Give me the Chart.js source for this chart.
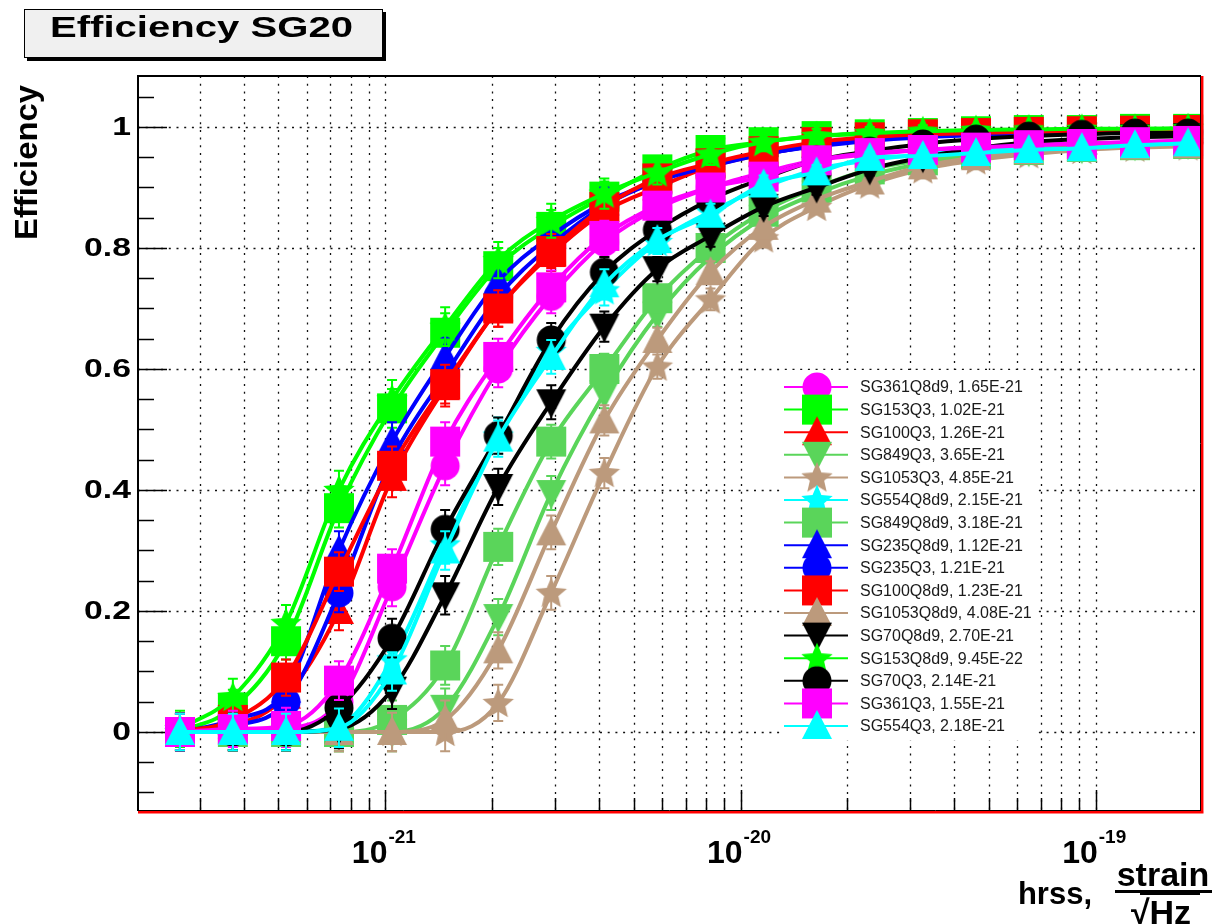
<!DOCTYPE html>
<html>
<head>
<meta charset="utf-8">
<script src="https://cdn.jsdelivr.net/npm/chart.js@4/dist/chart.umd.min.js"></script>
<style>
  html, body { margin: 0; padding: 0; background: #ffffff; }
  #wrap { width: 1220px; height: 924px; position: relative; }
</style>
</head>
<body>
<div id="wrap"><canvas id="c" width="1220" height="924"></canvas></div>
<script>
// ---------------- DATA ----------------
const hrss = [2.64e-22, 3.72e-22, 5.25e-22, 7.40e-22, 1.044e-21, 1.473e-21, 2.078e-21, 2.93e-21,
              4.135e-21, 5.83e-21, 8.23e-21, 1.161e-20, 1.637e-20, 2.31e-20, 3.26e-20, 4.60e-20,
              6.48e-20, 9.14e-20, 1.29e-19, 1.82e-19];

const seriesLabels = [
  'SG361Q8d9, 1.65E-21', 'SG153Q3, 1.02E-21', 'SG100Q3, 1.26E-21', 'SG849Q3, 3.65E-21',
  'SG1053Q3, 4.85E-21', 'SG554Q8d9, 2.15E-21', 'SG849Q8d9, 3.18E-21', 'SG235Q8d9, 1.12E-21',
  'SG235Q3, 1.21E-21', 'SG100Q8d9, 1.23E-21', 'SG1053Q8d9, 4.08E-21', 'SG70Q8d9, 2.70E-21',
  'SG153Q8d9, 9.45E-22', 'SG70Q3, 2.14E-21', 'SG361Q3, 1.55E-21', 'SG554Q3, 2.18E-21'
];

const effSG361Q8d9 = [0, 0, 0.005, 0.05, 0.24, 0.44, 0.60, 0.72, 0.81, 0.865, 0.90, 0.925, 0.945, 0.955, 0.962, 0.967, 0.97, 0.973, 0.975, 0.977];
const effSG153Q3   = [0, 0.04, 0.15, 0.37, 0.535, 0.66, 0.77, 0.835, 0.885, 0.93, 0.962, 0.975, 0.985, 0.988, 0.99, 0.993, 0.995, 0.995, 0.997, 0.997];
const effSG100Q3   = [0, 0.01, 0.06, 0.20, 0.42, 0.57, 0.70, 0.79, 0.86, 0.90, 0.935, 0.955, 0.97, 0.98, 0.985, 0.99, 0.99, 0.993, 0.995, 0.995];
const effSG849Q3   = [0, 0, 0, 0, 0, 0.04, 0.19, 0.395, 0.56, 0.69, 0.785, 0.85, 0.89, 0.92, 0.94, 0.955, 0.96, 0.965, 0.97, 0.972];
const effSG1053Q3  = [0, 0, 0, 0, 0, 0, 0.048, 0.23, 0.428, 0.604, 0.715, 0.816, 0.868, 0.905, 0.93, 0.945, 0.955, 0.962, 0.966, 0.968];
const effSG554Q8d9 = [0, 0, 0, 0.01, 0.12, 0.31, 0.49, 0.63, 0.73, 0.81, 0.86, 0.90, 0.93, 0.945, 0.955, 0.962, 0.967, 0.97, 0.973, 0.975];
const effSG849Q8d9 = [0, 0, 0, 0, 0.02, 0.11, 0.306, 0.48, 0.60, 0.717, 0.80, 0.86, 0.90, 0.93, 0.945, 0.955, 0.962, 0.967, 0.97, 0.972];
const effSG235Q8d9 = [0, 0.02, 0.07, 0.30, 0.48, 0.62, 0.745, 0.82, 0.875, 0.91, 0.94, 0.955, 0.97, 0.978, 0.985, 0.988, 0.99, 0.992, 0.993, 0.994];
const effSG235Q3   = [0, 0.01, 0.05, 0.23, 0.45, 0.59, 0.72, 0.805, 0.87, 0.91, 0.935, 0.955, 0.968, 0.977, 0.983, 0.987, 0.99, 0.991, 0.992, 0.993];
const effSG100Q8d9 = [0, 0.02, 0.09, 0.265, 0.44, 0.575, 0.70, 0.795, 0.868, 0.915, 0.94, 0.96, 0.975, 0.983, 0.988, 0.99, 0.992, 0.993, 0.994, 0.995];
const effSG1053Q8d9= [0, 0, 0, 0, 0, 0.02, 0.135, 0.33, 0.515, 0.648, 0.76, 0.835, 0.88, 0.91, 0.935, 0.95, 0.96, 0.965, 0.968, 0.97];
const effSG70Q8d9  = [0, 0, 0, 0.005, 0.07, 0.226, 0.405, 0.545, 0.67, 0.765, 0.82, 0.868, 0.90, 0.93, 0.95, 0.965, 0.975, 0.98, 0.983, 0.985];
const effSG153Q8d9 = [0.005, 0.058, 0.18, 0.40, 0.55, 0.67, 0.78, 0.845, 0.89, 0.925, 0.955, 0.975, 0.985, 0.99, 0.993, 0.995, 0.996, 0.997, 0.997, 0.998];
const effSG70Q3    = [0, 0, 0, 0.04, 0.155, 0.335, 0.49, 0.648, 0.76, 0.83, 0.88, 0.915, 0.945, 0.96, 0.972, 0.98, 0.985, 0.988, 0.99, 0.99];
const effSG361Q3   = [0, 0.005, 0.01, 0.085, 0.27, 0.48, 0.62, 0.735, 0.82, 0.87, 0.90, 0.918, 0.945, 0.957, 0.962, 0.966, 0.97, 0.972, 0.975, 0.977];
const effSG554Q3   = [0, 0, 0, 0.007, 0.10, 0.30, 0.485, 0.62, 0.74, 0.813, 0.855, 0.905, 0.925, 0.949, 0.952, 0.957, 0.962, 0.965, 0.97, 0.973];

// approximate error bar half-heights, read per hrss column
const effErr = [0.03, 0.03, 0.03, 0.032, 0.032, 0.032, 0.03, 0.028, 0.025, 0.02, 0.018, 0.015, 0.012, 0.01, 0.01, 0.008, 0.008, 0.008, 0.008, 0.008];

const yTickValues = [0, 0.2, 0.4, 0.6, 0.8, 1];
const yTickLabels = ['0', '0.2', '0.4', '0.6', '0.8', '1'];
const xTickExponents = [-21, -20, -19];
const titleText = 'Efficiency SG20';
const yTitleText = 'Efficiency';

// ---------------- STYLES ----------------
const seriesValues = [effSG361Q8d9, effSG153Q3, effSG100Q3, effSG849Q3, effSG1053Q3, effSG554Q8d9,
  effSG849Q8d9, effSG235Q8d9, effSG235Q3, effSG100Q8d9, effSG1053Q8d9, effSG70Q8d9,
  effSG153Q8d9, effSG70Q3, effSG361Q3, effSG554Q3];

const MAG = '#ff00ff', GRN = '#00ff00', RED = '#ff0000', LGR = '#5ad55a', TAN = '#bc9a7c',
      CYN = '#00ffff', BLU = '#0000ff', BLK = '#000000';
const seriesStyle = [
  [MAG, 'circle'], [GRN, 'square'], [RED, 'triUp'], [LGR, 'triDown'],
  [TAN, 'star'], [CYN, 'star'], [LGR, 'square'], [BLU, 'triUp'],
  [BLU, 'circle'], [RED, 'square'], [TAN, 'triUp'], [BLK, 'triDown'],
  [GRN, 'star'], [BLK, 'circle'], [MAG, 'square'], [CYN, 'triUp']
];

function makeMarker(type, color) {
  const s = 36, m = s / 2;
  const c = document.createElement('canvas');
  c.width = s; c.height = s;
  const g = c.getContext('2d');
  g.fillStyle = color;
  g.beginPath();
  if (type === 'circle') {
    g.arc(m, m, 14.5, 0, Math.PI * 2);
  } else if (type === 'square') {
    g.rect(m - 15, m - 15, 30, 30);
  } else if (type === 'triUp') {
    g.moveTo(m, m - 16); g.lineTo(m + 15, m + 13); g.lineTo(m - 15, m + 13); g.closePath();
  } else if (type === 'triDown') {
    g.moveTo(m, m + 16); g.lineTo(m + 15, m - 13); g.lineTo(m - 15, m - 13); g.closePath();
  } else if (type === 'star') {
    for (let k = 0; k < 10; k++) {
      const ang = -Math.PI / 2 + k * Math.PI / 5;
      const r = (k % 2 === 0) ? 16.5 : 7.5;
      const px = m + r * Math.cos(ang), py = m + 1 + r * Math.sin(ang);
      if (k === 0) g.moveTo(px, py); else g.lineTo(px, py);
    }
    g.closePath();
  }
  g.fill();
  return c;
}

const markers = seriesStyle.map(([col, t]) => makeMarker(t, col));

const datasets = seriesValues.map((vals, i) => ({
  label: seriesLabels[i],
  data: hrss.map((h, j) => ({ x: h, y: vals[j] })),
  borderColor: seriesStyle[i][0],
  backgroundColor: seriesStyle[i][0],
  borderWidth: 4,
  pointStyle: markers[i],
  pointRadius: 15,
  pointHoverRadius: 15,
  cubicInterpolationMode: 'monotone',
  fill: false,
  clip: false,
  order: seriesValues.length - i
}));

const FONT = '"Liberation Sans", Arial, Helvetica, sans-serif';

function stretchText(ctx, text, x, y, sx, align) {
  ctx.save();
  ctx.translate(x, y);
  ctx.scale(sx, 1);
  ctx.textAlign = align;
  ctx.fillText(text, 0, 0);
  ctx.restore();
}

const rootDecor = {
  id: 'rootDecor',
  beforeDatasetsDraw(chart) {
    const { ctx, chartArea: a, scales: { x, y } } = chart;
    ctx.save();
    ctx.fillStyle = '#ffffff';
    ctx.fillRect(a.left, a.top, a.right - a.left, a.bottom - a.top);
    // dotted grid
    ctx.strokeStyle = '#111';
    ctx.lineWidth = 1.3;
    ctx.setLineDash([2, 5.7]);
    for (let e = -22; e <= -19; e++) {
      for (let k = 1; k <= 9; k++) {
        const v = k * Math.pow(10, e);
        if (v <= x.min * 1.001 || v >= x.max * 0.999) continue;
        const px = Math.round(x.getPixelForValue(v)) + 0.5;
        ctx.beginPath(); ctx.moveTo(px, a.top); ctx.lineTo(px, a.bottom); ctx.stroke();
      }
    }
    for (const v of yTickValues) {
      const py = Math.round(y.getPixelForValue(v)) + 0.5;
      ctx.beginPath(); ctx.moveTo(a.left, py); ctx.lineTo(a.right, py); ctx.stroke();
    }
    ctx.setLineDash([]);
    // ticks
    ctx.strokeStyle = '#000';
    ctx.lineWidth = 1.5;
    for (let i = -3; i <= 22; i++) {
      const v = i * 0.05;
      if (v < y.min || v > y.max) continue;
      const py = Math.round(y.getPixelForValue(v)) + 0.5;
      const len = (i % 4 === 0) ? 29 : 16;
      ctx.beginPath(); ctx.moveTo(a.left, py); ctx.lineTo(a.left + len, py); ctx.stroke();
    }
    for (let e = -22; e <= -19; e++) {
      for (let k = 1; k <= 9; k++) {
        const v = k * Math.pow(10, e);
        if (v <= x.min * 1.001 || v >= x.max * 0.999) continue;
        const px = Math.round(x.getPixelForValue(v)) + 0.5;
        const len = (k === 1) ? 21 : 13;
        ctx.beginPath(); ctx.moveTo(px, a.bottom); ctx.lineTo(px, a.bottom - len); ctx.stroke();
      }
    }
    ctx.restore();
  },
  beforeDatasetDraw(chart, args) {
    const { ctx, scales: { x, y } } = chart;
    const i = args.index;
    const vals = seriesValues[i];
    ctx.save();
    ctx.strokeStyle = seriesStyle[i][0];
    ctx.lineWidth = 2;
    for (let j = 0; j < hrss.length; j++) {
      const px = x.getPixelForValue(hrss[j]);
      const yt = y.getPixelForValue(vals[j] + effErr[j]);
      const yb = y.getPixelForValue(vals[j] - effErr[j]);
      ctx.beginPath();
      ctx.moveTo(px, yt); ctx.lineTo(px, yb);
      ctx.moveTo(px - 5, yt); ctx.lineTo(px + 5, yt);
      ctx.moveTo(px - 5, yb); ctx.lineTo(px + 5, yb);
      ctx.stroke();
    }
    ctx.restore();
  },
  afterDatasetsDraw(chart) {
    const { ctx, chartArea: a, scales: { x, y } } = chart;
    ctx.save();
    // frame
    ctx.strokeStyle = '#000';
    ctx.lineWidth = 2;
    ctx.beginPath();
    ctx.moveTo(a.left, a.bottom); ctx.lineTo(a.left, a.top); ctx.lineTo(a.right, a.top);
    ctx.stroke();
    ctx.lineWidth = 1;
    ctx.beginPath();
    ctx.moveTo(a.left, a.bottom - 0.5); ctx.lineTo(a.right, a.bottom - 0.5);
    ctx.moveTo(a.right - 0.5, a.top); ctx.lineTo(a.right - 0.5, a.bottom);
    ctx.stroke();
    ctx.strokeStyle = '#ff0000';
    ctx.lineWidth = 2.5;
    ctx.beginPath();
    ctx.moveTo(a.left, a.bottom + 1.2); ctx.lineTo(a.right + 2.5, a.bottom + 1.2);
    ctx.moveTo(a.right + 1.2, a.top); ctx.lineTo(a.right + 1.2, a.bottom + 2.5);
    ctx.stroke();

    // legend
    const lx0 = 783, ly0 = 370, lw = 252, lh = 370;
    ctx.fillStyle = '#ffffff';
    ctx.fillRect(lx0, ly0, lw, lh);
    ctx.font = '16px ' + FONT;
    ctx.textBaseline = 'middle';
    ctx.textAlign = 'left';
    for (let i = 0; i < seriesLabels.length; i++) {
      const cy = 387 + 22.6 * i;
      ctx.strokeStyle = seriesStyle[i][0];
      ctx.lineWidth = 2;
      ctx.beginPath(); ctx.moveTo(784, cy); ctx.lineTo(848, cy); ctx.stroke();
      const m = markers[i];
      ctx.drawImage(m, 817 - m.width / 2, cy - m.height / 2);
    }
    ctx.fillStyle = '#1a1a1a';
    for (let i = 0; i < seriesLabels.length; i++) {
      const cy = 387 + 22.6 * i;
      ctx.fillText(seriesLabels[i], 860, cy + 1);
    }

    // y tick labels
    ctx.fillStyle = '#000';
    ctx.font = 'bold 25px ' + FONT;
    ctx.textBaseline = 'middle';
    for (let i = 0; i < yTickValues.length; i++) {
      const py = y.getPixelForValue(yTickValues[i]);
      stretchText(ctx, yTickLabels[i], 131, py + 1, 1.35, 'right');
    }

    // x tick labels (10^n)
    ctx.textBaseline = 'alphabetic';
    for (const e of xTickExponents) {
      const px = x.getPixelForValue(Math.pow(10, e));
      ctx.font = 'bold 32px ' + FONT;
      const w1 = ctx.measureText('10').width;
      ctx.font = 'bold 19px ' + FONT;
      const sup = String(e);
      const w2 = ctx.measureText(sup).width;
      const x0 = px - (w1 + w2) / 2 - 2;
      ctx.font = 'bold 32px ' + FONT;
      ctx.textAlign = 'left';
      ctx.fillText('10', x0, 863);
      ctx.font = 'bold 19px ' + FONT;
      ctx.fillText(sup, x0 + w1 + 1, 843);
    }

    // x axis title
    ctx.font = 'bold 31px ' + FONT;
    ctx.textAlign = 'right';
    ctx.fillText('hrss,', 1092, 904);
    ctx.font = 'bold 34px ' + FONT;
    ctx.textAlign = 'center';
    ctx.fillText('strain', 1163, 886);
    ctx.fillRect(1115, 890, 97, 3);
    ctx.fillRect(1140, 890, 60, 5);
    ctx.fillText('\u221AHz', 1161, 924);

    // y axis title
    ctx.save();
    ctx.translate(37, 85);
    ctx.rotate(-Math.PI / 2);
    ctx.font = 'bold 31px ' + FONT;
    ctx.textAlign = 'right';
    ctx.textBaseline = 'alphabetic';
    const wt = ctx.measureText(yTitleText).width;
    ctx.scale(155 / wt, 1);
    ctx.fillText(yTitleText, 0, 0);
    ctx.restore();

    // title box
    ctx.fillStyle = '#000';
    ctx.fillRect(27, 12, 359, 49);
    ctx.fillStyle = '#f0f0f0';
    ctx.fillRect(24, 9, 359, 49);
    ctx.strokeStyle = '#000';
    ctx.lineWidth = 1;
    ctx.strokeRect(24.5, 9.5, 358, 48);
    ctx.fillStyle = '#000';
    ctx.font = 'bold 30px ' + FONT;
    ctx.textBaseline = 'alphabetic';
    const tw = ctx.measureText(titleText).width;
    ctx.save();
    ctx.translate(201.5, 37);
    ctx.scale(303 / tw, 1);
    ctx.textAlign = 'center';
    ctx.fillText(titleText, 0, 0);
    ctx.restore();

    ctx.restore();
  }
};

new Chart(document.getElementById('c').getContext('2d'), {
  type: 'line',
  data: { datasets },
  options: {
    responsive: false,
    animation: false,
    devicePixelRatio: 1,
    layout: { padding: { left: 138, top: 76, right: 12, bottom: 113 } },
    scales: {
      x: { type: 'logarithmic', min: 2.011e-22, max: 1.979e-19, display: false },
      y: { type: 'linear', min: -0.1306, max: 1.0843, display: false }
    },
    plugins: { legend: { display: false }, tooltip: { enabled: false }, title: { display: false } },
    events: []
  },
  plugins: [rootDecor]
});
</script>
</body>
</html>
